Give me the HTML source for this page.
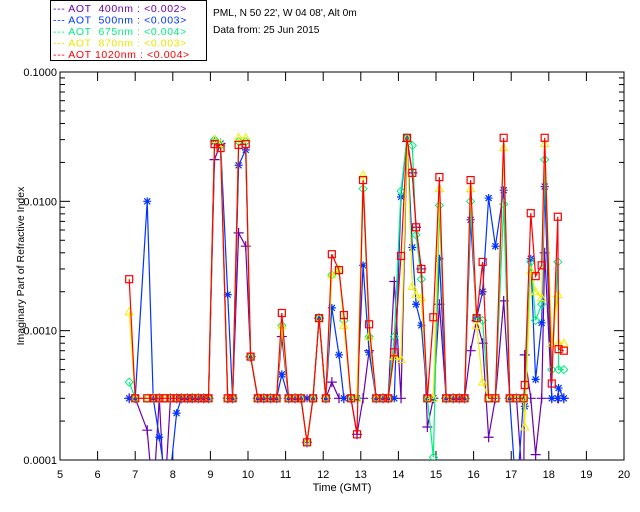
<!DOCTYPE html>
<html><head><meta charset="utf-8"><style>
body{margin:0;background:#fff;}
svg{display:block;font-family:"Liberation Sans",sans-serif;}
</style></head><body>
<svg id="chart" width="640" height="512" viewBox="0 0 640 512">
<rect x="0" y="0" width="640" height="512" fill="#fff"/>
<g>
<rect x="50.5" y="0.5" width="156" height="60" fill="#fff" stroke="#000"/>
<g font-size="10.5" letter-spacing="0.6">
<text x="53" y="12" fill="#6a00b0" xml:space="preserve">--- AOT  400nm : &lt;0.002&gt;</text>
<text x="53" y="23.5" fill="#0033ff" xml:space="preserve">--- AOT  500nm : &lt;0.003&gt;</text>
<text x="53" y="35" fill="#00ee80" xml:space="preserve">--- AOT  675nm : &lt;0.004&gt;</text>
<text x="53" y="46.5" fill="#e8e800" xml:space="preserve">--- AOT  870nm : &lt;0.003&gt;</text>
<text x="53" y="58" fill="#ff0000" xml:space="preserve">--- AOT 1020nm : &lt;0.004&gt;</text>
</g></g>
<text x="213" y="16" font-size="10.2">PML, N 50 22', W 04 08', Alt 0m</text>
<text x="213" y="33" font-size="10.2">Data from: 25 Jun 2015</text>
<g id="axes"></g>
<defs><clipPath id="pc"><rect x="60" y="72" width="564" height="388"/></clipPath></defs>
<g id="series" clip-path="url(#pc)"></g>
<text x="342" y="491" font-size="11" text-anchor="middle">Time (GMT)</text>
<text x="24" y="266" font-size="10.5" text-anchor="middle" transform="rotate(-90 24 266)">Imaginary Part of Refractive Index</text>
</svg>
<script>
const times=[6.84,7.00,7.32,7.48,7.64,7.78,7.94,8.10,8.23,8.39,8.52,8.68,8.82,8.95,9.11,9.27,9.46,9.59,9.75,9.94,10.07,10.26,10.42,10.60,10.76,10.90,11.08,11.25,11.41,11.57,11.73,11.89,12.07,12.23,12.42,12.55,12.74,12.90,13.06,13.22,13.41,13.59,13.73,13.89,14.07,14.23,14.37,14.47,14.61,14.77,14.93,15.09,15.27,15.46,15.62,15.76,15.92,16.08,16.24,16.40,16.58,16.80,16.96,17.14,17.33,17.36,17.52,17.65,17.81,17.89,18.08,18.24,18.26,18.40];
const aot400=[0.0003,0.0003,0.00017,0.00005,0.0003,0.00005,0.0003,0.0003,0.0003,0.0003,0.0003,0.0003,0.0003,0.0003,0.021,0.028,0.0003,0.0003,0.0057,0.0045,0.00063,0.0003,0.0003,0.0003,0.0003,0.0009,0.0003,0.0003,0.0003,0.000137,0.0003,0.00125,0.0003,0.0004,0.0003,0.0003,0.0003,0.000158,0.0003,0.0007,0.0003,0.0003,0.0003,0.0024,0.0003,0.029,0.0166,0.0063,0.003,0.00018,0.0003,0.0016,0.0003,0.0003,0.0003,0.0003,0.0007,0.0012,0.0008,0.00015,0.0003,0.0017,0.0003,0.0003,0.00005,0.00065,0.0003,0.00011,0.0003,0.004,0.0003,0.0003,0.0003,0.0003];
const aot500=[0.0003,0.0003,0.01,0.0003,0.00015,0.00008,0.00008,0.00023,0.0003,0.0003,0.0003,0.0003,0.0003,0.0003,0.029,0.028,0.0019,0.0003,0.019,0.025,0.00063,0.0003,0.0003,0.0003,0.0003,0.00046,0.0003,0.0003,0.0003,0.0003,0.0003,0.00125,0.0003,0.0015,0.00065,0.0003,0.0003,0.0003,0.0032,0.00068,0.0003,0.0003,0.0003,0.0003,0.0108,0.031,0.0044,0.0016,0.0011,0.0003,0.0003,0.0036,0.0003,0.0003,0.0003,0.0003,0.0072,0.00125,0.002,0.0106,0.0045,0.0122,0.0003,0.00005,0.0003,0.00026,0.0036,0.00042,0.00115,0.013,0.0003,0.0003,0.00036,0.0003];
const aot675=[0.0004,0.0003,0.0003,0.0003,0.0003,0.0003,0.0003,0.0003,0.0003,0.0003,0.0003,0.0003,0.0003,0.0003,0.03,0.027,0.0003,0.0003,0.029,0.029,0.00063,0.0003,0.0003,0.0003,0.0003,0.0011,0.0003,0.0003,0.0003,0.000137,0.0003,0.00125,0.0003,0.0027,0.0029,0.0012,0.0003,0.0003,0.0125,0.0009,0.0003,0.0003,0.0003,0.0009,0.012,0.031,0.027,0.0055,0.0025,0.0003,0.000105,0.0093,0.0003,0.0003,0.0003,0.0003,0.0100,0.00125,0.0012,0.0003,0.0003,0.0095,0.0003,0.0003,0.0003,0.0003,0.0034,0.0012,0.0016,0.021,0.0005,0.0034,0.0005,0.0005];
const aot870=[0.0014,0.0003,0.0003,0.0003,0.0003,0.0003,0.0003,0.0003,0.0003,0.0003,0.0003,0.0003,0.0003,0.0003,0.03,0.028,0.0003,0.0003,0.031,0.031,0.00063,0.0003,0.0003,0.0003,0.0003,0.0011,0.0003,0.0003,0.0003,0.000137,0.0003,0.00125,0.0003,0.0027,0.0030,0.0011,0.0003,0.0003,0.016,0.0009,0.0003,0.0003,0.0003,0.00063,0.0006,0.031,0.0022,0.0019,0.0018,0.0003,0.0003,0.0125,0.0003,0.0003,0.0003,0.0003,0.0125,0.0011,0.0004,0.0003,0.0003,0.026,0.0003,0.0003,0.0003,0.00018,0.0029,0.0020,0.0018,0.028,0.0008,0.0019,0.0008,0.0008];
const aot1020=[0.0025,0.0003,0.0003,0.0003,0.0003,0.0003,0.0003,0.0003,0.0003,0.0003,0.0003,0.0003,0.0003,0.0003,0.0277,0.0258,0.0003,0.0003,0.0273,0.0277,0.00063,0.0003,0.0003,0.0003,0.0003,0.00137,0.0003,0.0003,0.0003,0.000137,0.0003,0.00125,0.0003,0.0039,0.00294,0.00132,0.0003,0.000158,0.0146,0.00112,0.0003,0.0003,0.0003,0.00068,0.00378,0.031,0.0166,0.0063,0.003,0.0003,0.00127,0.0154,0.0003,0.0003,0.0003,0.0003,0.0146,0.00125,0.0034,0.0003,0.0003,0.031,0.0003,0.0003,0.0003,0.00038,0.0081,0.00264,0.0032,0.031,0.00039,0.0076,0.00072,0.0007];
const xTicks=[5,6,7,8,9,10,11,12,13,14,15,16,17,18,19,20];
const yTicks=[0.0001,0.001,0.01,0.1];
const yTickLabels=["0.0001","0.0010","0.0100","0.1000"];

const NS="http://www.w3.org/2000/svg";
const X0=60,X1=624,Y0=460,Y1=72;
function xs(t){return X0+(t-5)/(20-5)*(X1-X0);}
function ys(v){return Y0-(Math.log10(v)+4)/3*(Y0-Y1);}
function mk(tag,attrs,parent){const e=document.createElementNS(NS,tag);for(const k in attrs)e.setAttribute(k,attrs[k]);parent.appendChild(e);return e;}
const axes=document.getElementById('axes');
const frame=mk('rect',{x:X0,y:Y1,width:X1-X0,height:Y0-Y1,fill:'none',stroke:'#000','stroke-width':1},axes);


xTicks.forEach(t=>{
  const x=xs(t);
  const l1=mk('line',{x1:x,y1:Y0,x2:x,y2:Y0-9,stroke:'#000'},axes);
  
  
  mk('line',{x1:x,y1:Y1,x2:x,y2:Y1+9,stroke:'#000'},axes);
  const tx=mk('text',{x:x,y:Y0+18,'font-size':11,'text-anchor':'middle'},axes);
  tx.textContent=String(t);
  
  
});
yTicks.forEach((v,i)=>{
  const y=ys(v);
  const l=mk('line',{x1:X0,y1:y,x2:X0+10,y2:y,stroke:'#000'},axes);
  
  
  mk('line',{x1:X1,y1:y,x2:X1-10,y2:y,stroke:'#000'},axes);
  const tx=mk('text',{x:X0-3,y:y+4,'font-size':11,'text-anchor':'end'},axes);
  tx.textContent=yTickLabels[i];
  
  
  if(i<yTicks.length-1){for(let m=2;m<10;m++){const ym=ys(v*m);mk('line',{x1:X0,y1:ym,x2:X0+5,y2:ym,stroke:'#000'},axes);mk('line',{x1:X1,y1:ym,x2:X1-5,y2:ym,stroke:'#000'},axes);}}
});
const series=[
 {name:'aot-400',vals:aot400,color:'#6a00b0',m:'plus'},
 {name:'aot-500',vals:aot500,color:'#0033ff',m:'star'},
 {name:'aot-675',vals:aot675,color:'#00ee80',m:'diamond'},
 {name:'aot-870',vals:aot870,color:'#f0f000',m:'tri'},
 {name:'aot-1020',vals:aot1020,color:'#ff0000',m:'square'}];
const sg=document.getElementById('series');
series.forEach(s=>{
  const g=mk('g',{},sg);
  
  
  const pts=s.vals.map((v,i)=>xs(times[i]).toFixed(1)+','+ys(v).toFixed(1)).join(' ');
  const pl=mk('polyline',{points:pts,fill:'none',stroke:s.color,'stroke-width':1.2},g);
  
  
  s.vals.forEach((v,i)=>{
    const x=xs(times[i]),y=ys(v);let e;
    if(s.m==='square')e=mk('rect',{x:x-3.5,y:y-3.5,width:7,height:7,fill:'none',stroke:s.color,'stroke-width':1.2},g);
    else if(s.m==='tri')e=mk('path',{d:`M${x},${y-4}L${x+4},${y+3}L${x-4},${y+3}Z`,fill:'none',stroke:s.color},g);
    else if(s.m==='diamond')e=mk('path',{d:`M${x},${y-4}L${x+4},${y}L${x},${y+4}L${x-4},${y}Z`,fill:'none',stroke:s.color},g);
    else if(s.m==='star')e=mk('path',{d:`M${x-4},${y}H${x+4}M${x},${y-4}V${y+4}M${x-3},${y-3}L${x+3},${y+3}M${x-3},${y+3}L${x+3},${y-3}`,stroke:s.color,'stroke-width':1.2},g);
    else e=mk('path',{d:`M${x-5},${y}H${x+5}M${x},${y-5}V${y+5}`,stroke:s.color,'stroke-width':1.2},g);
    
    
  });
});
</script>
</body></html>
